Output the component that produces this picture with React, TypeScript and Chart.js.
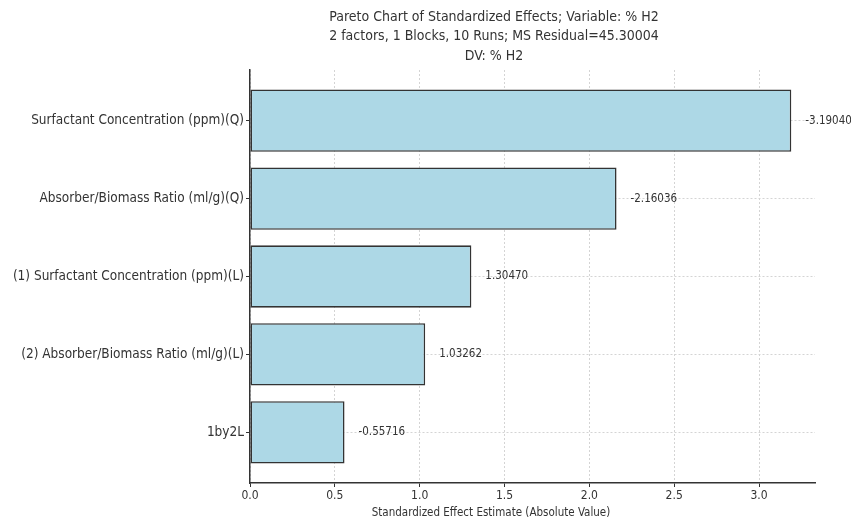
import { useEffect, useRef } from "react";
import { Chart, registerables } from "chart.js";

Chart.register(...registerables);

const categories = [
  "Surfactant Concentration (ppm)(Q)",
  "Absorber/Biomass Ratio (ml/g)(Q)",
  "(1) Surfactant Concentration (ppm)(L)",
  "(2) Absorber/Biomass Ratio (ml/g)(L)",
  "1by2L",
];
const effects = [-3.1904, -2.16036, 1.3047, 1.03262, -0.55716];
const absEffects = [3.1904, 2.16036, 1.3047, 1.03262, 0.55716];
const xTicks = [0, 0.5, 1.0, 1.5, 2.0, 2.5, 3.0];
const titleLines = [
  "Pareto Chart of Standardized Effects; Variable: % H2",
  "2 factors, 1 Blocks, 10 Runs; MS Residual=45.30004",
  "DV: % H2",
];
const xTitle = "Standardized Effect Estimate (Absolute Value)";

const FONT = "'DejaVu Sans Condensed', 'Liberation Sans Narrow', 'DejaVu Sans', sans-serif";
const TEXT = "#333333";

export default function App() {
  const ref = useRef<HTMLCanvasElement | null>(null);

  useEffect(() => {
    if (!ref.current) return;
    const overlay = {
      id: "overlay",
      afterDatasetsDraw(chart: any) {
        const ctx = chart.ctx;
        const meta = chart.getDatasetMeta(0);
        ctx.save();
        ctx.font = `11.5px ${FONT}`;
        ctx.fillStyle = TEXT;
        ctx.textAlign = "left";
        ctx.textBaseline = "middle";
        meta.data.forEach((el: any, i: number) => {
          ctx.fillText(effects[i].toFixed(5), el.x + 14, el.y);
        });
        ctx.restore();
      },
      afterDraw(chart: any) {
        const ctx = chart.ctx;
        ctx.save();
        ctx.fillStyle = TEXT;
        ctx.textAlign = "center";
        ctx.textBaseline = "middle";
        ctx.font = `14px ${FONT}`;
        titleLines.forEach((t, i) => ctx.fillText(t, 494, 17 + i * 19.5));
        ctx.font = `11.5px ${FONT}`;
        ctx.fillText(xTitle, 491, 513);
        ctx.restore();
      },
    };

    const chart = new Chart(ref.current, {
      type: "bar",
      data: {
        datasets: [
          {
            data: categories.map((_, i) => ({ x: absEffects[i], y: i })) as any,
            backgroundColor: "#ADD8E6",
            borderColor: "#333333",
            borderWidth: 1.6,
            barPercentage: 0.8,
            categoryPercentage: 1,
            borderSkipped: false,
          },
        ],
      },
      options: {
        indexAxis: "y",
        responsive: false,
        animation: false,
        layout: { padding: { top: 70, right: 36, left: 0, bottom: 0 } },
        plugins: { legend: { display: false }, tooltip: { enabled: false }, title: { display: false } },
        scales: {
          x: {
            type: "linear",
            min: 0,
            max: 3.33,
            offset: false,
            afterBuildTicks: (s: any) => {
              s.ticks = xTicks.map((v) => ({ value: v }));
            },
            afterFit: (s: any) => {
              s.height = 40;
            },
            ticks: {
              callback: (v: any) => Number(v).toFixed(1),
              font: { family: FONT, size: 12 },
              color: TEXT,
              padding: 2,
              maxRotation: 0,
            },
            grid: { offset: false, color: "#d4d4d4", lineWidth: 1, tickColor: "#333333", tickLength: 4, tickWidth: 1 },
            border: { display: true, color: "#333333", width: 1.5, dash: [2, 2] },
          },
          y: {
            type: "linear",
            min: -0.65,
            max: 4.65,
            reverse: true,
            offset: false,
            afterBuildTicks: (s: any) => {
              s.ticks = categories.map((_, i) => ({ value: i }));
            },
            afterFit: (s: any) => {
              s.width = 250;
            },
            ticks: {
              callback: (v: any) => categories[Math.round(Number(v))],
              font: { family: FONT, size: 13.5 },
              color: TEXT,
              padding: 2,
            },
            grid: { offset: false, color: "#d4d4d4", lineWidth: 1, tickColor: "#333333", tickLength: 4, tickWidth: 1 },
            border: { display: true, color: "#333333", width: 1.5, dash: [2, 2] },
          },
        },
      },
      plugins: [overlay],
    });
    return () => chart.destroy();
  }, []);

  return (
    <div style={{ position: "absolute", left: 0, top: 0, width: 851, height: 523, background: "#fff" }}>
      <canvas ref={ref} width={851} height={523} />
    </div>
  );
}
